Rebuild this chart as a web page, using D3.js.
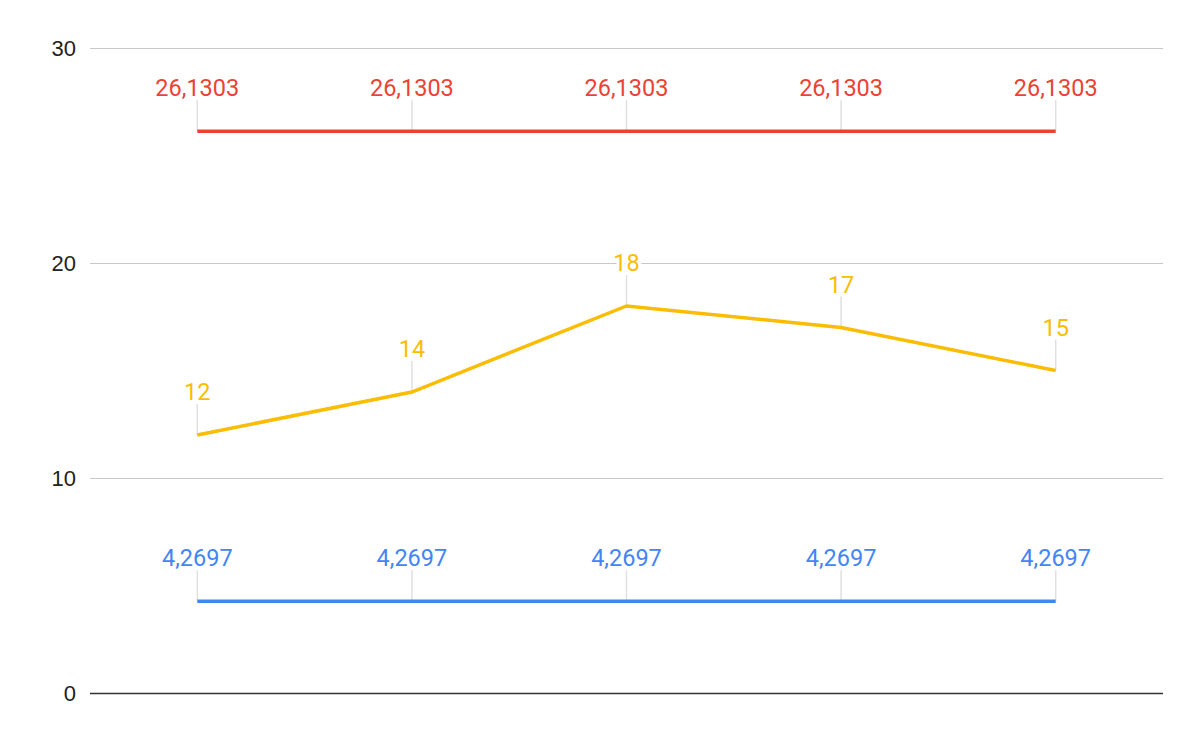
<!DOCTYPE html>
<html>
<head>
<meta charset="utf-8">
<script src="https://cdn.jsdelivr.net/npm/d3@7"></script>
<style>
  body { margin: 0; background: #fff; }
  .axis-label { font-family: Arial, "Liberation Sans", sans-serif; font-size: 22px; fill: #222; }
  .data-label { font-family: Roboto, sans-serif; font-size: 23.5px; paint-order: stroke; stroke: #fff; stroke-width: 6px; stroke-linejoin: round; }
</style>
</head>
<body>
<div id="chart"></div>
<script>
// categories (unlabelled on the axis)
var categories = ["A", "B", "C", "D", "E"];
var upperValues = [26.1303, 26.1303, 26.1303, 26.1303, 26.1303];
var mainValues = [12, 14, 18, 17, 15];
var lowerValues = [4.2697, 4.2697, 4.2697, 4.2697, 4.2697];
var yTicks = [0, 10, 20, 30];

var series = [
  { name: "upper", values: upperValues, color: "#ea4335" },
  { name: "main", values: mainValues, color: "#fbbc04" },
  { name: "lower", values: lowerValues, color: "#4285f4" }
];

var svgWidth = 1200;
var svgHeight = 742;
var margin = { top: 48, right: 37, bottom: 49, left: 90 };
var width = svgWidth - margin.left - margin.right;
var height = svgHeight - margin.top - margin.bottom;

var locale = d3.formatLocale({ decimal: ",", thousands: ".", grouping: [3], currency: ["", ""] });
var fmt = function(v) { return Number.isInteger(v) ? String(v) : locale.format(".4f")(v); };

var svg = d3.select("#chart")
  .append("svg")
  .attr("width", svgWidth)
  .attr("height", svgHeight);

var chartGroup = svg.append("g")
  .attr("transform", `translate(${margin.left}, ${margin.top})`);

var xScale = d3.scalePoint()
  .domain(categories)
  .range([0, width])
  .padding(0.5);

var yScale = d3.scaleLinear()
  .domain([0, 30])
  .range([height, 0]);

// gridlines + tick labels
var leftAxis = d3.axisLeft(yScale)
  .tickValues(yTicks)
  .tickSize(-width)
  .tickPadding(14);

var yAxis = chartGroup.append("g").call(leftAxis);
yAxis.select(".domain").remove();
yAxis.selectAll(".tick line")
  .attr("stroke", d => d === 0 ? "#333" : "#c8c8c8")
  .attr("stroke-width", d => d === 0 ? 1.5 : 1);
yAxis.selectAll(".tick text")
  .attr("class", "axis-label")
  .attr("font-family", null)
  .attr("font-size", null);

var line = d3.line()
  .x((d, i) => xScale(categories[i]))
  .y(d => yScale(d));

series.forEach(function(s) {
  // leader lines from labels to points
  chartGroup.selectAll(".leader-" + s.name)
    .data(s.values)
    .enter()
    .append("line")
    .attr("x1", (d, i) => xScale(categories[i]))
    .attr("x2", (d, i) => xScale(categories[i]))
    .attr("y1", d => yScale(d) - 31)
    .attr("y2", d => yScale(d))
    .attr("stroke", "#e0e0e0")
    .attr("stroke-width", 1.5);
});

series.forEach(function(s) {
  chartGroup.append("path")
    .datum(s.values)
    .attr("fill", "none")
    .attr("stroke", s.color)
    .attr("stroke-width", 3.5)
    .attr("d", line);
});

series.forEach(function(s) {
  chartGroup.selectAll(".label-" + s.name)
    .data(s.values)
    .enter()
    .append("text")
    .attr("class", "data-label")
    .attr("x", (d, i) => xScale(categories[i]))
    .attr("y", d => yScale(d) - 35)
    .attr("text-anchor", "middle")
    .attr("fill", s.color)
    .text(d => fmt(d));
});
</script>
</body>
</html>
